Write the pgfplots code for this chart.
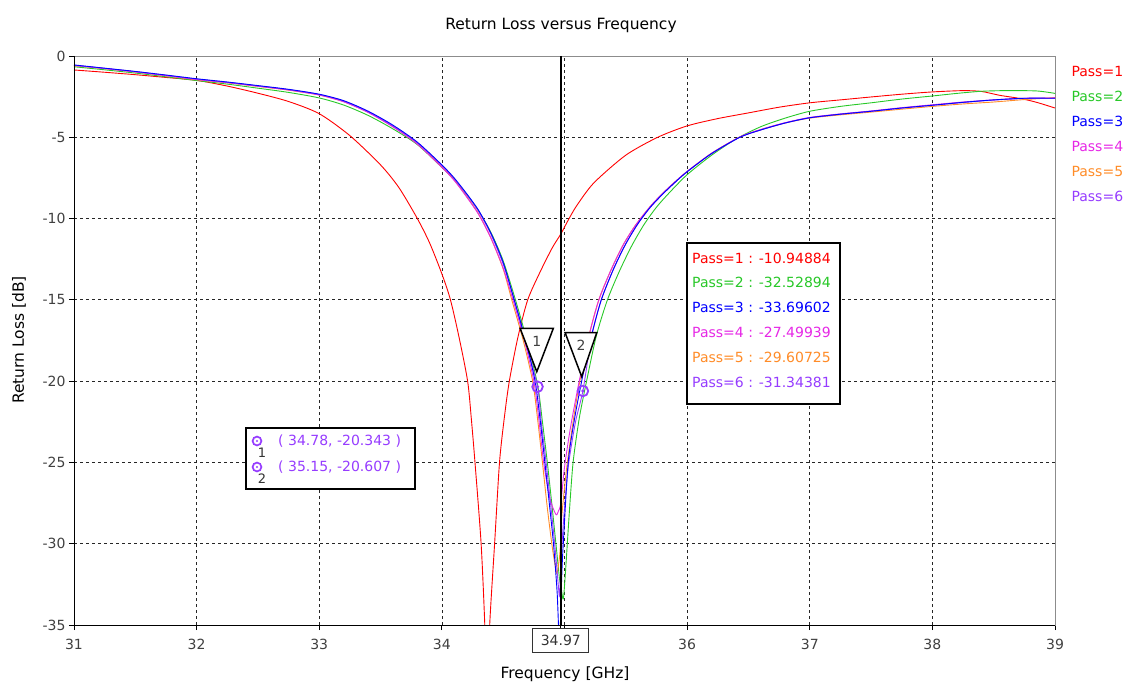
\documentclass[border=0pt]{standalone}
\usepackage{fontspec}
\setmainfont{DejaVu Sans}
\usepackage{pgfplots}
\pgfplotsset{compat=1.18}
\definecolor{pone}{RGB}{255,0,0}
\definecolor{ptwo}{RGB}{40,200,40}
\definecolor{pthree}{RGB}{0,0,255}
\definecolor{pfour}{RGB}{230,40,230}
\definecolor{pfive}{RGB}{255,140,40}
\definecolor{psix}{RGB}{150,60,255}
\newcommand{\tk}{\fontsize{14bp}{16bp}\selectfont}
\newcommand{\lb}{\fontsize{15.5bp}{18bp}\selectfont}
\begin{document}
\begin{tikzpicture}
\begin{axis}[
  scale only axis, width=981bp, height=569bp,
  xmin=31, xmax=39, ymin=-35, ymax=0,
  xtick={31,32,33,34,35,36,37,38,39},
  xticklabels={31,32,33,34,,36,37,38,39},
  ytick={-35,-30,-25,-20,-15,-10,-5,0},
  yticklabels={-35,-30,-25,-20,-15,-10,-5,0},
  extra x ticks={34.97}, extra x tick labels={}, extra x tick style={grid=none},
  tick pos=left, tick align=outside, major tick length=5bp,
  tick style={black, line width=0.8bp},
  ticklabel style={font=\tk, text=black!75},
  xticklabel style={yshift=-6bp},
  /pgf/number format/assume math mode=true,
  grid=major,
  major grid style={black!85, line width=0.75bp, dash pattern=on 3bp off 3bp},
  axis line style={black!45, line width=0.8bp},
  every axis plot/.append style={line width=0.9bp, smooth, tension=0.45},
]
\coordinate (NW) at (rel axis cs:0,1);
\coordinate (SW) at (rel axis cs:0,0);
\coordinate (SE) at (rel axis cs:1,0);
\coordinate (NE) at (rel axis cs:1,1);
\coordinate (M) at (axis cs:34.97,-35);

% Pass=1
\addplot[pone] coordinates {
(31.00,-0.86) (31.25,-1.00) (31.50,-1.15) (31.75,-1.32) (32.00,-1.50) (32.25,-1.85)
(32.50,-2.29) (32.75,-2.80) (33.00,-3.55) (33.25,-4.90) (33.50,-6.70) (33.65,-8.10)
(33.80,-10.00) (33.90,-11.50) (34.00,-13.40) (34.07,-15.00) (34.14,-17.30) (34.21,-20.00)
(34.24,-22.30) (34.27,-25.00) (34.32,-30.00) (34.35,-35.00) (34.37,-40.00) (34.39,-35.00)
(34.43,-30.00) (34.47,-25.00) (34.51,-22.20) (34.55,-20.00) (34.62,-17.30) (34.70,-15.00)
(34.80,-13.30) (34.90,-11.80) (34.97,-10.95) (35.03,-10.10) (35.10,-9.20) (35.24,-7.80)
(35.50,-6.10) (35.76,-5.00) (36.00,-4.30) (36.25,-3.85) (36.50,-3.50) (36.75,-3.15)
(37.00,-2.88) (37.25,-2.70) (37.50,-2.52) (37.75,-2.35) (38.00,-2.21) (38.25,-2.13)
(38.40,-2.18) (38.55,-2.42) (38.72,-2.62) (38.85,-2.85) (39.00,-3.20)
};
% Pass=2
\addplot[ptwo] coordinates {
(31.00,-0.66) (31.25,-0.85) (31.50,-1.05) (31.75,-1.28) (32.00,-1.51) (32.25,-1.73)
(32.50,-1.98) (32.75,-2.24) (33.00,-2.58) (33.20,-3.02) (33.40,-3.66) (33.60,-4.48)
(33.80,-5.45) (34.00,-6.85) (34.10,-7.60) (34.20,-8.50) (34.30,-9.55) (34.40,-10.85)
(34.50,-12.60) (34.60,-15.00) (34.69,-17.40) (34.78,-20.20) (34.82,-22.50) (34.86,-25.00)
(34.90,-27.80) (34.93,-30.00) (34.96,-32.20) (34.97,-32.53) (34.99,-33.40) (35.01,-31.50)
(35.04,-28.00) (35.07,-25.00) (35.12,-22.30) (35.18,-20.00) (35.26,-17.20) (35.35,-15.00)
(35.45,-13.20) (35.55,-11.65) (35.65,-10.35) (35.75,-9.30) (35.85,-8.45) (36.00,-7.30)
(36.20,-6.10) (36.40,-5.10) (36.60,-4.35) (36.80,-3.82) (37.00,-3.40)
(37.25,-3.10) (37.50,-2.88) (37.75,-2.65) (38.00,-2.46) (38.20,-2.30) (38.40,-2.17)
(38.60,-2.13) (38.85,-2.15) (39.00,-2.30)
};
% Pass=5
\addplot[pfive] coordinates {
(31.00,-0.60) (31.25,-0.78) (31.50,-0.98) (31.75,-1.22) (32.00,-1.46) (32.25,-1.65)
(32.50,-1.87) (32.75,-2.10) (33.00,-2.40) (33.20,-2.81) (33.40,-3.46) (33.60,-4.33)
(33.80,-5.40) (34.00,-6.82) (34.10,-7.62) (34.20,-8.62) (34.30,-9.72) (34.40,-11.20)
(34.50,-13.10) (34.57,-15.00) (34.66,-17.40) (34.74,-20.00) (34.78,-22.30) (34.82,-25.00)
(34.86,-27.80) (34.90,-30.20) (34.93,-31.60) (34.94,-31.80) (34.96,-30.80) (34.97,-29.61)
(34.98,-28.10) (35.02,-25.20) (35.07,-22.50) (35.12,-20.20) (35.20,-17.20) (35.28,-15.00)
(35.38,-13.15) (35.48,-11.60) (35.58,-10.40) (35.70,-9.25) (35.80,-8.45) (35.90,-7.75)
(36.00,-7.10) (36.20,-5.98) (36.43,-4.98) (36.60,-4.53) (36.80,-4.12) (37.00,-3.82)
(37.25,-3.62) (37.50,-3.45) (37.75,-3.27) (38.00,-3.10) (38.25,-2.95) (38.50,-2.83)
(38.75,-2.68) (39.00,-2.56)
};
% Pass=4
\addplot[pfour] coordinates {
(31.00,-0.58) (31.25,-0.77) (31.50,-0.98) (31.75,-1.21) (32.00,-1.45) (32.25,-1.64)
(32.50,-1.86) (32.75,-2.09) (33.00,-2.40) (33.20,-2.82) (33.40,-3.48) (33.60,-4.36)
(33.80,-5.42) (34.00,-6.85) (34.10,-7.65) (34.20,-8.65) (34.30,-9.75) (34.40,-11.20)
(34.50,-13.05) (34.58,-15.00) (34.67,-17.40) (34.75,-20.00) (34.79,-22.30) (34.83,-25.00)
(34.88,-27.20) (34.93,-28.20) (34.95,-28.00) (34.97,-27.50) (35.00,-25.30) (35.05,-22.80)
(35.12,-20.00) (35.20,-17.20) (35.28,-15.00) (35.38,-13.15) (35.48,-11.60) (35.58,-10.40)
(35.70,-9.25) (35.80,-8.45) (35.90,-7.75) (36.00,-7.10) (36.20,-5.98) (36.43,-4.98)
(36.60,-4.52) (36.80,-4.10) (37.00,-3.78) (37.25,-3.56) (37.50,-3.38) (37.75,-3.18)
(38.00,-3.00) (38.25,-2.83) (38.50,-2.70) (38.75,-2.60) (39.00,-2.58)
};
% Pass=6
\addplot[psix] coordinates {
(31.00,-0.57) (31.25,-0.76) (31.50,-0.96) (31.75,-1.19) (32.00,-1.42) (32.25,-1.62)
(32.50,-1.84) (32.75,-2.07) (33.00,-2.37) (33.20,-2.78) (33.40,-3.44) (33.60,-4.30)
(33.80,-5.34) (34.00,-6.74) (34.10,-7.54) (34.20,-8.50) (34.30,-9.56) (34.40,-10.97)
(34.50,-12.80) (34.59,-15.00) (34.68,-17.50) (34.78,-20.343) (34.81,-22.50) (34.85,-25.00)
(34.89,-27.80) (34.92,-30.00) (34.95,-32.60) (34.96,-33.20) (34.97,-31.34) (34.99,-28.80)
(35.03,-25.30) (35.09,-22.50) (35.15,-20.607) (35.22,-17.30) (35.30,-15.00) (35.40,-13.10)
(35.50,-11.55) (35.60,-10.30) (35.70,-9.30) (35.80,-8.50) (35.90,-7.78) (36.00,-7.12)
(36.20,-6.00) (36.43,-5.00) (36.60,-4.55) (36.80,-4.12) (37.00,-3.80) (37.25,-3.58)
(37.50,-3.40) (37.75,-3.20) (38.00,-3.03) (38.25,-2.86) (38.50,-2.71) (38.75,-2.61)
(39.00,-2.60)
};
% Pass=3
\addplot[pthree] coordinates {
(31.00,-0.55) (31.25,-0.75) (31.50,-0.95) (31.75,-1.17) (32.00,-1.40) (32.25,-1.60)
(32.50,-1.82) (32.75,-2.05) (33.00,-2.35) (33.20,-2.75) (33.40,-3.40) (33.60,-4.25)
(33.80,-5.30) (34.00,-6.70) (34.10,-7.50) (34.20,-8.45) (34.30,-9.50) (34.40,-10.90)
(34.50,-12.70) (34.59,-15.00) (34.68,-17.40) (34.76,-20.00) (34.80,-22.30) (34.84,-25.00)
(34.88,-27.80) (34.91,-30.00) (34.94,-33.00) (34.96,-36.50) (34.97,-33.70) (34.98,-31.50)
(34.99,-30.00) (35.03,-25.00) (35.08,-22.40) (35.14,-20.00) (35.22,-17.20) (35.30,-15.00)
(35.40,-13.10) (35.50,-11.55) (35.60,-10.30) (35.70,-9.30) (35.80,-8.50) (35.90,-7.78)
(36.00,-7.12) (36.20,-6.00) (36.43,-5.00) (36.60,-4.55) (36.80,-4.12) (37.00,-3.80)
(37.25,-3.58) (37.50,-3.40) (37.75,-3.20) (38.00,-3.03) (38.25,-2.85) (38.50,-2.70)
(38.75,-2.60) (39.00,-2.60)
};

% marker line at 34.97
\addplot[black, line width=1.8bp, sharp plot] coordinates {(34.97,0) (34.97,-35)};

% triangles
\draw[black, line width=1.5bp, fill=white, line join=miter]
  (axis cs:34.638,-16.75) -- (axis cs:34.909,-16.75) -- (axis cs:34.774,-19.42) -- cycle;
\draw[black, line width=1.5bp, fill=white, line join=miter]
  (axis cs:35.005,-17.02) -- (axis cs:35.263,-17.02) -- (axis cs:35.140,-19.72) -- cycle;
\node[font=\tk, text=black!75] at (axis cs:34.774,-17.55) {1};
\node[font=\tk, text=black!75] at (axis cs:35.136,-17.80) {2};

% marker circles
\addplot[only marks, mark=o, mark size=5.3bp, psix, mark options={line width=1.8bp, solid}]
  coordinates {(34.78,-20.343) (35.15,-20.607)};
\addplot[only marks, mark=*, mark size=1.1bp, psix]
  coordinates {(34.78,-20.343) (35.15,-20.607)};
\end{axis}

% black left & bottom axis lines
\draw[black, line width=0.9bp] (NW) -- (SW) -- (SE);

% marker frequency box
\node[draw=black!80, line width=0.8bp, fill=white, font=\tk, text=black!80, anchor=north,
  minimum width=56bp, minimum height=24bp, inner sep=1bp]
  at ([yshift=-3bp]M) {34.97};

% title and axis labels
\node[font=\lb, anchor=base] at ([shift={(487bp,26bp)}]NW) {Return Loss versus Frequency};
\node[font=\lb, anchor=base] at ([shift={(491bp,-53bp)}]SW) {Frequency [GHz]};
\node[font=\lb, anchor=base, rotate=90] at ([shift={(-50bp,-284bp)}]NW) {Return Loss [dB]};

% legend at right
\node[font=\tk, text=pone,   anchor=west] at ([shift={(13bp,-16bp)}]NE) {Pass=1};
\node[font=\tk, text=ptwo,   anchor=west] at ([shift={(13bp,-40.8bp)}]NE) {Pass=2};
\node[font=\tk, text=pthree, anchor=west] at ([shift={(13bp,-65.6bp)}]NE) {Pass=3};
\node[font=\tk, text=pfour,  anchor=west] at ([shift={(13bp,-90.4bp)}]NE) {Pass=4};
\node[font=\tk, text=pfive,  anchor=west] at ([shift={(13bp,-115.2bp)}]NE) {Pass=5};
\node[font=\tk, text=psix,   anchor=west] at ([shift={(13bp,-140bp)}]NE) {Pass=6};

% value box
\draw[black, line width=1.5bp, fill=white] ([shift={(613bp,-187bp)}]NW) rectangle ([shift={(766bp,-348bp)}]NW);
\node[font=\tk, text=pone,   anchor=west, inner sep=0pt] at ([shift={(618bp,-202bp)}]NW) {Pass=1 : -10.94884};
\node[font=\tk, text=ptwo,   anchor=west, inner sep=0pt] at ([shift={(618bp,-226.8bp)}]NW) {Pass=2 : -32.52894};
\node[font=\tk, text=pthree, anchor=west, inner sep=0pt] at ([shift={(618bp,-251.6bp)}]NW) {Pass=3 : -33.69602};
\node[font=\tk, text=pfour,  anchor=west, inner sep=0pt] at ([shift={(618bp,-276.4bp)}]NW) {Pass=4 : -27.49939};
\node[font=\tk, text=pfive,  anchor=west, inner sep=0pt] at ([shift={(618bp,-301.2bp)}]NW) {Pass=5 : -29.60725};
\node[font=\tk, text=psix,   anchor=west, inner sep=0pt] at ([shift={(618bp,-326bp)}]NW) {Pass=6 : -31.34381};

% marker legend box
\draw[black, line width=1.5bp, fill=white] ([shift={(172bp,-372bp)}]NW) rectangle ([shift={(341bp,-433bp)}]NW);
\draw[psix, line width=1.7bp] ([shift={(183bp,-385bp)}]NW) circle (4.4bp);
\fill[psix] ([shift={(183bp,-385bp)}]NW) circle (1.1bp);
\draw[psix, line width=1.7bp] ([shift={(183bp,-411bp)}]NW) circle (4.4bp);
\fill[psix] ([shift={(183bp,-411bp)}]NW) circle (1.1bp);
\node[font=\fontsize{13bp}{15bp}\selectfont, text=black!80, inner sep=0pt] at ([shift={(188bp,-397bp)}]NW) {1};
\node[font=\fontsize{13bp}{15bp}\selectfont, text=black!80, inner sep=0pt] at ([shift={(188bp,-423bp)}]NW) {2};
\node[font=\tk, text=psix, anchor=west, inner sep=0pt] at ([shift={(204bp,-385bp)}]NW) {( 34.78, -20.343 )};
\node[font=\tk, text=psix, anchor=west, inner sep=0pt] at ([shift={(204bp,-411bp)}]NW) {( 35.15, -20.607 )};

\pgfresetboundingbox
\path ([shift={(-74bp,-56bp)}]SW) rectangle ([shift={(72bp,56bp)}]NE);
\end{tikzpicture}
\end{document}
